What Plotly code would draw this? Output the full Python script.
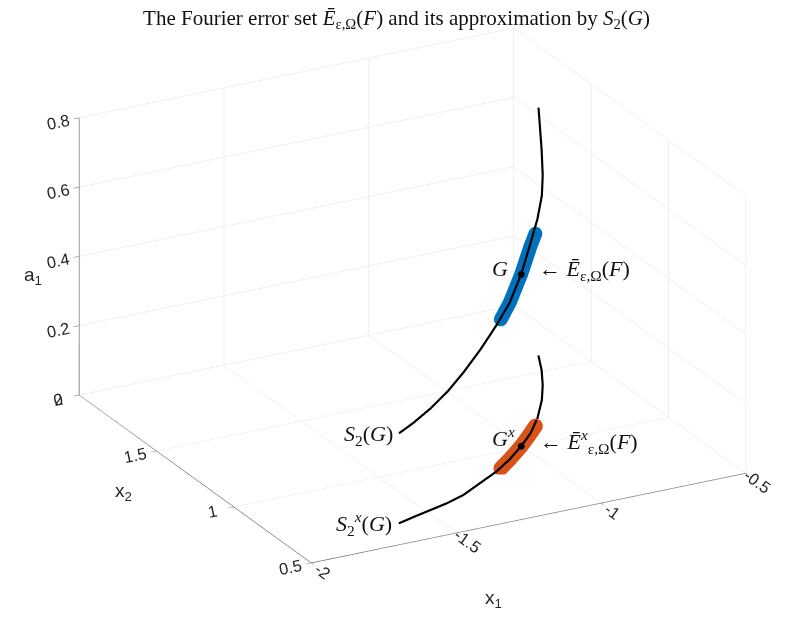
import numpy as np
import plotly.graph_objects as go

# ---- data ----
# S2(G) curve: (x1, x2, a1); its floor projection S2^x(G) uses a1 = 0
curve_x1 = [-1.6145, -1.5549, -1.4837, -1.4124, -1.340, -1.2503, -1.1606, -1.0816,
            -1.0029, -0.9295, -0.8554, -0.7769, -0.7189, -0.6662, -0.6225]
curve_x2 = [0.6506, 0.6723, 0.6966, 0.7209, 0.7536, 0.8127, 0.8718, 0.9366,
            1.0105, 1.0872, 1.1815, 1.3002, 1.4030, 1.5087, 1.6103]
curve_a1 = [0.260, 0.272, 0.293, 0.321, 0.353, 0.384, 0.423, 0.452,
            0.496, 0.549, 0.575, 0.590, 0.605, 0.635, 0.715]

# error set spine (blue) and its projection (orange)
blob_x1 = [-1.14, -1.0816, -1.0029, -0.9295, -0.89]
blob_x2 = [0.885, 0.9366, 1.0105, 1.0872, 1.13]
blob_a1 = [0.43, 0.452, 0.496, 0.540, 0.555]

# point G
G = (-1.0029, 1.0105, 0.496)

x1_ticks = [-2, -1.5, -1, -0.5]
x1_ticktext = ["-2", "-1.5", "-1", "-0.5"]
x2_ticks = [0.5, 1, 1.5, 2]
x2_ticktext = ["0.5", "1", "1.5", "2"]
a1_ticks = [0, 0.2, 0.4, 0.6, 0.8]
a1_ticktext = ["0", "0.2", "0.4", "0.6", "0.8"]

BLUE = "#0072BD"
ORANGE = "#D95319"

# ---- view geometry (MATLAB-like orthographic view) ----
VIEW = np.array([-0.4345, -0.8136, 0.3862])
VIEW = VIEW / np.linalg.norm(VIEW)
EYE_DIST = 1.5
ZOOM = 1.72
AR = np.array([1.0, 1.0, 0.61]) * ZOOM
LO = np.array([-2.0, 0.5, 0.0])
SPAN = np.array([1.5, 1.5, 0.8])
PX = 289.0  # approx pixels per normalised scene unit


def to_n(P):
    return (P - LO) / SPAN * AR


def to_d(N):
    return N / AR * SPAN + LO


def ribbon(xs, ys, zs, half_px, lift):
    """Screen-facing ribbon (thick line with round caps) built around a polyline."""
    N = to_n(np.column_stack([xs, ys, zs]).astype(float))
    w = half_px / PX
    n = len(N)
    T = np.gradient(N, axis=0)
    T = T / np.linalg.norm(T, axis=1)[:, None]
    O = np.cross(T, VIEW)
    O = O / np.linalg.norm(O, axis=1)[:, None] * w
    verts = []
    faces = []
    for i in range(n):
        verts.append(N[i] + O[i])
        verts.append(N[i] - O[i])
    for i in range(n - 1):
        a, b, c, e = 2 * i, 2 * i + 1, 2 * i + 2, 2 * i + 3
        faces.append((a, b, c))
        faces.append((b, e, c))
    # round caps
    for idx, sgn in ((0, -1.0), (n - 1, 1.0)):
        t = T[idx] - np.dot(T[idx], VIEW) * VIEW
        t = t / np.linalg.norm(t) * sgn
        o = O[idx] / np.linalg.norm(O[idx])
        c0 = len(verts)
        verts.append(N[idx])
        th = np.linspace(-np.pi / 2, np.pi / 2, 13)
        for a in th:
            verts.append(N[idx] + w * (np.cos(a) * t + np.sin(a) * o))
        for k in range(len(th) - 1):
            faces.append((c0, c0 + 1 + k, c0 + 2 + k))
    V = np.array(verts) + VIEW * lift
    V = to_d(V)
    F = np.array(faces)
    return V, F


def mesh(V, F, color):
    return go.Mesh3d(x=V[:, 0], y=V[:, 1], z=V[:, 2], i=F[:, 0], j=F[:, 1], k=F[:, 2],
                     color=color, opacity=1, flatshading=True,
                     lighting=dict(ambient=1, diffuse=0, specular=0, roughness=1, fresnel=0),
                     hoverinfo="skip", showscale=False)


fig = go.Figure()
zeros_b = [0] * len(blob_x1)
zeros_c = [0] * len(curve_x1)
fig.add_trace(mesh(*ribbon(blob_x1, blob_x2, blob_a1, 7.0, 0.05), BLUE))
fig.add_trace(mesh(*ribbon(blob_x1, blob_x2, zeros_b, 7.5, 0.05), ORANGE))
fig.add_trace(mesh(*ribbon(curve_x1, curve_x2, curve_a1, 1.1, 0.10), "black"))
fig.add_trace(mesh(*ribbon(curve_x1, curve_x2, zeros_c, 1.1, 0.10), "black"))

# points G and G^x (lifted towards the viewer so they sit on top)
gp = to_d(to_n(np.array([[G[0], G[1], G[2]], [G[0], G[1], 0.0]])) + VIEW * 0.15)
fig.add_trace(go.Scatter3d(x=gp[:, 0], y=gp[:, 1], z=gp[:, 2], mode="markers",
                           marker=dict(color="black", size=4, line=dict(width=0)),
                           hoverinfo="skip", showlegend=False))

serif = dict(family="Liberation Serif", size=22, color="#111")
ann = [
    dict(x=G[0], y=G[1], z=G[2], text="<i>G</i>", xanchor="right", xshift=-12, yshift=6,
         showarrow=False, font=serif),
    dict(x=G[0], y=G[1], z=G[2], text="← <i>Ē</i><sub>ε,Ω</sub>(<i>F</i>)", xanchor="left", xshift=15,
         yshift=5, showarrow=False, font=serif),
    dict(x=G[0], y=G[1], z=0, text="<i>G</i><sup><i>x</i></sup>", xanchor="right", xshift=-5, yshift=10,
         showarrow=False, font=serif),
    dict(x=G[0], y=G[1], z=0, text="← <i>Ē</i><sup><i>x</i></sup><sub>ε,Ω</sub>(<i>F</i>)", xanchor="left",
         xshift=16, yshift=5, showarrow=False, font=serif),
    dict(x=curve_x1[0], y=curve_x2[0], z=curve_a1[0], text="<i>S</i><sub>2</sub>(<i>G</i>)", xanchor="right",
         xshift=-5, yshift=-2, showarrow=False, font=serif),
    dict(x=curve_x1[0], y=curve_x2[0], z=0, text="<i>S</i><sub>2</sub><sup><i>x</i></sup>(<i>G</i>)",
         xanchor="right", xshift=-6, showarrow=False, font=serif),
]


def axis(vals, text, rng):
    return dict(title=dict(text=""),
                range=rng, tickvals=vals, ticktext=text, autorange=False,
                showbackground=False, gridcolor="#e0e0e0", gridwidth=1,
                showline=True, linecolor="#666666", linewidth=1.5,
                ticks="outside", ticklen=6, tickcolor="#666666",
                tickfont=dict(family="Liberation Sans", size=14, color="#262626"),
                zeroline=False, showspikes=False)


sans = dict(family="Liberation Sans", size=19, color="#262626")
fig.update_layout(
    width=793, height=618,
    margin=dict(l=0, r=0, t=0, b=0),
    paper_bgcolor="white",
    title=dict(text="The Fourier error set <i>Ē</i><sub>ε,Ω</sub>(<i>F</i>) and its approximation by <i>S</i><sub>2</sub>(<i>G</i>)",
               x=0.49, xanchor="center", y=0.985, yanchor="middle",
               font=dict(family="Liberation Serif", size=21, color="#111")),
    scene=dict(
        domain=dict(x=[0.0306, 0.9906], y=[0.0704, 0.9976]),
        xaxis=axis(x1_ticks, x1_ticktext, [-2, -0.5]),
        yaxis=axis(x2_ticks, x2_ticktext, [0.5, 2]),
        zaxis=axis(a1_ticks, a1_ticktext, [0, 0.8]),
        aspectmode="manual", aspectratio=dict(x=AR[0], y=AR[1], z=AR[2]),
        camera=dict(eye=dict(x=VIEW[0] * EYE_DIST, y=VIEW[1] * EYE_DIST, z=VIEW[2] * EYE_DIST),
                    up=dict(x=0, y=0, z=1),
                    center=dict(x=0, y=0, z=0), projection=dict(type="orthographic")),
        annotations=ann,
    ),
    annotations=[
        dict(x=0.031, y=0.566, xref="paper", yref="paper", xanchor="center", yanchor="middle",
             text="a<sub>1</sub>", showarrow=False, font=sans),
        dict(x=0.146, y=0.217, xref="paper", yref="paper", xanchor="center", yanchor="middle",
             text="x<sub>2</sub>", showarrow=False, font=sans),
        dict(x=0.612, y=0.043, xref="paper", yref="paper", xanchor="center", yanchor="middle",
             text="x<sub>1</sub>", showarrow=False, font=sans),
    ],
)

fig.write_html("out.html")
